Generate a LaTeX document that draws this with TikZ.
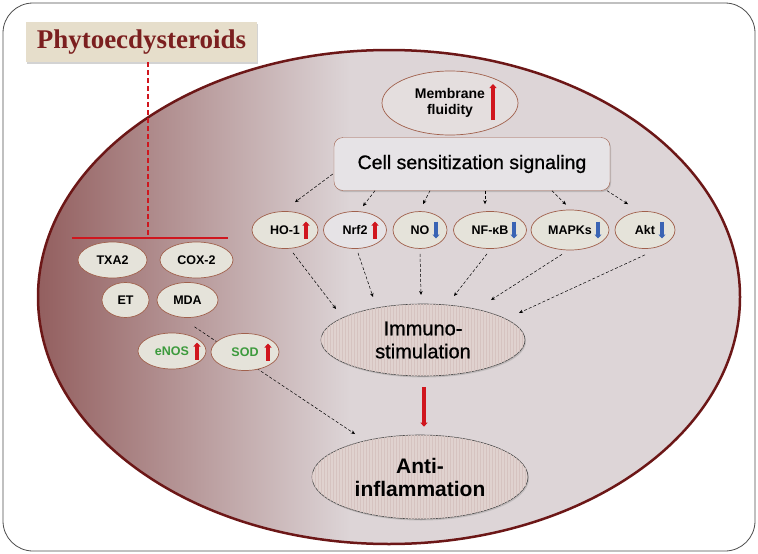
\documentclass[tikz,border=0pt]{standalone}
\usepackage{fontspec}
\setmainfont{Liberation Sans}
\newfontfamily\titlefont{Liberation Serif}
\newfontfamily\medfont[FakeBold=0.9]{Liberation Sans}
\usepackage{xcolor}
\usepackage{tikz}
\usetikzlibrary{arrows.meta,shapes.geometric,shadows,patterns,calc}

\definecolor{cellrim}{HTML}{6C1717}
\definecolor{celldark}{HTML}{935F5F}
\definecolor{celllight}{HTML}{DDD5D7}
\definecolor{ovalfill}{HTML}{E5E3DA}
\definecolor{ovalrim}{HTML}{A0604C}
\definecolor{titlered}{HTML}{7B1F1F}
\definecolor{titlebg}{HTML}{E6DECB}
\definecolor{upred}{HTML}{D0161E}
\definecolor{downblue}{HTML}{3A64B4}
\definecolor{greentext}{HTML}{3C9A3C}
\definecolor{stripefill}{HTML}{E0D2CF}
\definecolor{stripecol}{HTML}{D6C3C0}
\definecolor{boxfill}{HTML}{E6E3E6}

\newcommand{\upmark}[2]{\draw[uparr] ($(#1)+(#2,8.5)$) -- ++(0,-17);}
\newcommand{\downmark}[2]{\draw[dnarr] ($(#1)+(#2,-8.5)$) -- ++(0,17);}

\begin{document}
\begin{tikzpicture}
    [x=1pt,y=-1pt,
     mol/.style={ellipse,draw=ovalrim,fill=ovalfill,line width=0.7pt,inner sep=0pt,
        font=\fontsize{12.5}{14}\selectfont\bfseries},
     sig/.style={densely dashed,line width=0.5pt,-{Stealth[length=4pt,width=3.5pt]}},
     uparr/.style={draw=upred,line width=3.2pt,-{Triangle[length=4pt,width=7pt]}},
     dnarr/.style={draw=downblue,line width=3.2pt,-{Triangle[length=4pt,width=7pt]}},
     outcome/.style={ellipse,draw=gray!60!black,fill=stripefill,line width=0.6pt,inner sep=0pt,
        align=center,postaction={pattern=vertical lines,pattern color=stripecol},
        drop shadow={shadow xshift=1pt,shadow yshift=-1.5pt,opacity=.3}}]
    \useasboundingbox (0,0) rectangle (758,554);

    % frame and cell
    \draw[gray!60!black,line width=0.8pt,rounded corners=30pt] (3,3) rectangle (755,551);
    \begin{scope}
        \clip (389,297) ellipse [x radius=351, y radius=247];
        \fill[celllight] (30,40) rectangle (750,550);
        \shade[left color=celldark,right color=celllight] (38,40) rectangle (350,550);
    \end{scope}
    \draw[cellrim,line width=2.5pt] (389,297) ellipse [x radius=351, y radius=247];

    % compound and its targets
    \node[fill=titlebg,minimum width=231pt,minimum height=40pt,text=titlered,
          font=\titlefont\fontsize{27}{30}\selectfont\bfseries,
          drop shadow={shadow xshift=1pt,shadow yshift=-1.5pt,opacity=.35}] (phyto) at (141.5,42) {Phytoecdysteroids};
    \coordinate (hub) at (148,238);
    \coordinate (barL) at (72,238);
    \coordinate (barR) at (228,238);
    \draw[upred,line width=2pt,dash pattern=on 5pt off 3pt] (phyto.south -| hub) -- (hub);
    \draw[upred,line width=2pt] (barL) -- (barR);

    \node[mol,minimum width=69pt,minimum height=36pt] (txa) at (112.5,260) {TXA2};
    \node[mol,minimum width=73pt,minimum height=36pt] (cox) at (196.5,260) {COX-2};
    \node[mol,minimum width=47pt,minimum height=35pt] (et) at (125.5,300) {ET};
    \node[mol,minimum width=61pt,minimum height=35pt] (mda) at (187.5,300) {MDA};

    % route to anti-inflammation (behind SOD)
    \node[outcome,minimum width=216pt,minimum height=84pt,font=\fontsize{21}{23}\selectfont\bfseries] (anti) at (420,477) {Anti-\\inflammation};
    \draw[sig] ($(mda.south)+(7,9)$) -- ($(anti.center)+(-65,-43)$);

    \node[mol,minimum width=68pt,minimum height=36pt,text=greentext] (enos) at (172,351) {eNOS};
    \node[mol,minimum width=68pt,minimum height=37pt,text=greentext] (sod) at (245,352) {SOD};
    \upmark{enos}{25}
    \upmark{sod}{23}

    % membrane and signaling
    \node[mol,fill=boxfill!95!brown,minimum width=136pt,minimum height=64pt,align=center,
          font=\fontsize{14}{16}\selectfont\bfseries] (memb) at (450,103) {Membrane\\fluidity};
    \draw[uparr] ($(memb.center)+(43,17)$) -- ++(0,-36);

    \node[draw=ovalrim,fill=boxfill,rounded corners=9pt,minimum width=276pt,minimum height=53pt,
          font=\medfont\fontsize{19.5}{22}\selectfont,
          drop shadow={shadow xshift=1pt,shadow yshift=-1.5pt,opacity=.35}] (sens) at (472,164) {Cell sensitization signaling};

    \node[mol,minimum width=66pt,minimum height=37pt] (ho) at (285,230) {HO-1};
    \node[mol,fill=boxfill,minimum width=63pt,minimum height=37pt] (nrf) at (355,230) {Nrf2};
    \node[mol,minimum width=54pt,minimum height=37pt] (no) at (420,230) {NO};
    \node[mol,minimum width=73pt,minimum height=37pt] (nfkb) at (490,230) {NF-κB};
    \node[mol,minimum width=78pt,minimum height=40pt] (mapk) at (570,230) {MAPKs};
    \node[mol,minimum width=60pt,minimum height=37pt] (akt) at (645,230) {Akt};
    \upmark{ho}{21}
    \upmark{nrf}{20}
    \downmark{no}{16}
    \downmark{nfkb}{24}
    \downmark{mapk}{28}
    \downmark{akt}{17}

    \draw[sig] ($(sens.west)+(-1,10)$) -- ($(ho.north)+(10,-9)$);
    \draw[sig] ($(sens.south)+(-97,0)$) -- ($(nrf.north)+(8,-5)$);
    \draw[sig] ($(sens.south)+(-42,0)$) -- ($(no.north)+(3,-7)$);
    \draw[sig] ($(sens.south)+(13,0)$) -- ($(nfkb.north)+(-5,-7)$);
    \draw[sig] ($(sens.south)+(80,0)$) -- ($(mapk.north)+(-4,-5)$);
    \draw[sig] ($(sens.south)+(135,0)$) -- ($(akt.north)+(-17,-7)$);

    % immunostimulation
    \node[outcome,minimum width=204pt,minimum height=72pt,font=\medfont\fontsize{20}{23}\selectfont] (immuno) at (423,340) {Immuno-\\stimulation};
    \draw[sig] ($(ho.south)+(8,4)$) -- ($(immuno.center)+(-87,-31)$);
    \draw[sig] ($(nrf.south)+(3,4)$) -- ($(immuno.center)+(-50,-43)$);
    \draw[sig] ($(no.south)+(0,5)$) -- ($(immuno.center)+(-2,-45)$);
    \draw[sig] ($(nfkb.south)+(-3,5)$) -- ($(immuno.center)+(31,-44)$);
    \draw[sig] ($(mapk.south)+(-8,4)$) -- ($(immuno.center)+(68,-40)$);
    \draw[sig] ($(akt.south)+(0,6)$) -- ($(immuno.center)+(96,-27)$);

    \draw[upred,line width=3.5pt,-{Triangle[length=4pt,width=7pt]}] ($(immuno.south)+(1,11)$) -- ($(anti.north)+(4,-8)$);
\end{tikzpicture}
\end{document}
